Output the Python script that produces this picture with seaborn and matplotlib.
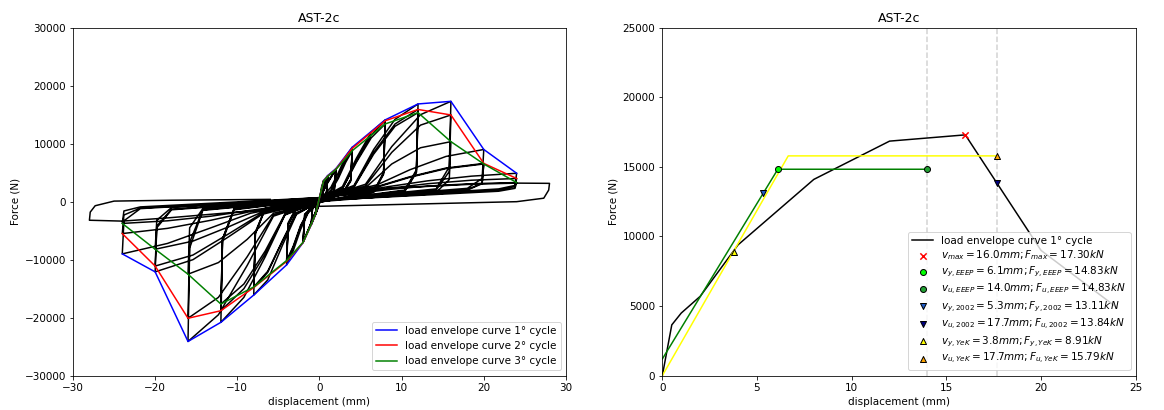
import matplotlib
matplotlib.use('Agg')
import matplotlib.pyplot as plt
import seaborn as sns

plt.rcParams['font.size'] = 10.4

# ===============================
# Envelope curves (peak force of each cycle per amplitude)
# ===============================
env_x = [-24, -20, -16, -12, -8, -4, -2, -1, -0.5, 0.5, 1, 2, 4, 8, 12, 16, 20, 24]
env_c1 = [-9000, -12100, -24100, -20800, -16100, -10900, -7070, -4000, -2300,
          3650, 4500, 5700, 9400, 14100, 16850, 17300, 9000, 4900]
env_c2 = [-5500, -11100, -20100, -18800, -14800, -10300, -7050, -3950, -2250,
          3600, 4400, 5600, 9200, 13950, 15900, 14950, 6600, 4000]
env_c3 = [-3750, -8200, -12500, -17650, -14700, -10150, -7000, -3900, -2200,
          3550, 4350, 5550, 8800, 13400, 15350, 10350, 6500, 3300]

# ===============================
# Hysteresis loops, read by eye (stations per half cycle, forces per half)
# rows: c1 up, c1 down, c2 up, c2 down, c3 up, c3 down
# ===============================
a05_first = [0.0, 0.1, 0.25, 0.5]
a05_up = [-0.35, 0.0, 0.2, 0.5]
a05_dn = [0.35, 0.0, -0.2, -0.5]
a05_f = [[0, 1200, 2500, 3650], [1000, -200, -1100, -2300],
         [-700, 300, 1700, 3600], [1000, -200, -1100, -2250],
         [-700, 300, 1700, 3550], [950, -200, -1100, -2200]]

a1_first = [-0.35, 0.0, 0.4, 1.0]
a1_up = [-0.85, 0.0, 0.4, 1.0]
a1_dn = [0.85, 0.0, -0.4, -1.0]
a1_f = [[-700, 400, 2600, 4500], [1400, -200, -1900, -4000],
        [-1200, 300, 2400, 4400], [1300, -200, -1800, -3950],
        [-1200, 300, 2400, 4350], [1300, -200, -1800, -3900]]

a2_first = [-0.85, 0.0, 0.8, 2.0]
a2_up = [-1.8, 0.0, 0.8, 2.0]
a2_dn = [1.8, 0.0, -0.8, -2.0]
a2_f = [[-1100, 400, 3000, 5700], [2000, -100, -3000, -7070],
        [-2200, 300, 2800, 5600], [1900, -100, -2900, -7050],
        [-2200, 300, 2800, 5550], [1900, -100, -2900, -7000]]

a4_first = [-1.8, -1.0, 0.0, 1.4, 2.3, 3.2, 4.0]
a4_up = [-3.8, -2.8, 0.0, 1.4, 2.3, 3.2, 4.0]
a4_dn = [3.8, 2.8, 0.0, -1.4, -2.3, -3.2, -4.0]
a4_f = [[-2800, -900, 300, 2500, 5000, 7800, 9400],
        [3800, 1500, 0, -2000, -4800, -8500, -10900],
        [-4000, -1300, 200, 2000, 4400, 7300, 9200],
        [3700, 1400, -100, -1800, -4300, -7900, -10300],
        [-3800, -1200, 200, 1800, 4000, 6800, 8800],
        [3500, 1300, -100, -1700, -4100, -7700, -10150]]

a8_first = [-3.8, -2.8, 0.0, 2.8, 4.5, 6.3, 8.0]
a8_up = [-7.8, -6.6, 0.0, 2.8, 4.5, 6.3, 8.0]
a8_dn = [7.8, 6.6, 0.0, -2.8, -4.5, -6.3, -8.0]
a8_f = [[-3600, -1000, 400, 2600, 7500, 12000, 14100],
        [5000, 1800, 0, -2200, -7500, -13500, -16100],
        [-5500, -1300, 300, 2300, 7000, 11500, 13950],
        [4900, 1700, -100, -2000, -6800, -12200, -14800],
        [-5200, -1200, 300, 2200, 6800, 11000, 13400],
        [4700, 1600, -100, -1900, -6700, -12000, -14700]]

a12_first = [-7.8, -6.6, 0.0, 4.2, 6.6, 9.2, 12.0]
a12_up = [-11.8, -10.4, 0.0, 4.2, 6.6, 9.2, 12.0]
a12_dn = [11.8, 10.4, 0.0, -4.2, -6.6, -9.2, -12.0]
a12_f = [[-5500, -1100, 500, 2800, 9000, 14200, 16850],
         [5500, 2000, 100, -2300, -9500, -16500, -20800],
         [-6800, -1400, 400, 2600, 8500, 13400, 15900],
         [5200, 1900, 0, -2200, -9000, -15000, -18800],
         [-6400, -1300, 400, 2500, 8200, 13000, 15350],
         [5000, 1800, 0, -2100, -8500, -14200, -17650]]

a16_first = [-11.8, -10.4, 0.0, 5.6, 8.8, 12.3, 16.0]
a16_up = [-15.8, -14.2, 0.0, 5.6, 8.8, 12.3, 16.0]
a16_dn = [15.8, 14.2, 0.0, -5.6, -8.8, -12.3, -16.0]
a16_f = [[-6500, -1200, 500, 3000, 9500, 15000, 17300],
         [6000, 2200, 200, -2500, -11000, -19500, -24100],
         [-8000, -1500, 400, 2700, 8500, 13200, 14950],
         [5200, 2000, 100, -2300, -9500, -16500, -20100],
         [-7000, -1400, 400, 2400, 6500, 9300, 10350],
         [3800, 1600, 0, -2000, -6500, -10500, -12500]]

a20_first = [-15.8, -14.2, 0.0, 7.0, 11.0, 15.4, 20.0]
a20_up = [-19.8, -18.0, 0.0, 7.0, 11.0, 15.4, 20.0]
a20_dn = [19.8, 18.0, 0.0, -7.0, -11.0, -15.4, -20.0]
a20_f = [[-4500, -1200, 600, 2900, 5500, 7800, 9000],
         [4000, 2300, 300, -2200, -6000, -10000, -12100],
         [-4500, -1400, 500, 2600, 4300, 5800, 6600],
         [3200, 2100, 200, -2000, -5500, -9200, -11100],
         [-4200, -1300, 500, 2500, 4200, 5700, 6500],
         [3100, 2000, 200, -1800, -4300, -6800, -8200]]

a24_first = [-19.8, -18.0, 0.0, 8.4, 13.2, 18.5, 24.0]
a24_up = [-23.8, -21.8, 0.0, 8.4, 13.2, 18.5, 24.0]
a24_dn = [23.8, 21.8, 0.0, -8.4, -13.2, -18.5, -24.0]
a24_f = [[-3200, -1000, 700, 2600, 3600, 4400, 4900],
         [2800, 2200, 300, -2000, -4500, -7200, -9000],
         [-3300, -1200, 600, 2300, 3100, 3700, 4000],
         [2600, 2000, 200, -1700, -3200, -4600, -5500],
         [-2300, -1100, 600, 2100, 2700, 3100, 3300],
         [2300, 1800, 200, -1500, -2500, -3300, -3750]]

# last run out to +/-28 mm
a28_up_x = [-23.8, -21.8, 0.0, 8.4, 18.5, 24.0, 28.0]
a28_up_f = [-1600, -900, 700, 2300, 3000, 3200, 3160]
a28_dn_x = [27.9, 27.3, 24.0, 0.0, -8.4, -18.5, -24.0, -28.0]
a28_dn_f = [2000, 600, 0, -800, -1600, -2800, -3350, -3200]
a28_end_x = [-27.9, -27.3, -25.0, -18.0, -6.0]
a28_end_f = [-1800, -700, 100, 250, 400]

# ===============================
# Bilinearisation results (right plot)
# ===============================
env1_x = [0, 0.5, 1, 2, 4, 8, 12, 16, 20, 24]
env1_f = [0, 3650, 4500, 5700, 9400, 14100, 16850, 17300, 9000, 4900]
eeep_x = [0, 6.1, 14.0]
eeep_f = [1200, 14830, 14830]
yek_x = [0, 6.65, 17.7]
yek_f = [0, 15790, 15790]

v_max, F_max = 16.0, 17.30
v_y_eeep, F_y_eeep = 6.1, 14.83
v_u_eeep, F_u_eeep = 14.0, 14.83
v_y_2002, F_y_2002 = 5.3, 13.11
v_u_2002, F_u_2002 = 17.7, 13.84
v_y_yek, F_y_yek = 3.8, 8.91
v_u_yek, F_u_yek = 17.7, 15.79

# ===============================
# Build the load history path
# ===============================
hist_x, hist_f = [0.0], [0.0]
blocks = [(a05_first, a05_up, a05_dn, a05_f), (a1_first, a1_up, a1_dn, a1_f),
          (a2_first, a2_up, a2_dn, a2_f), (a4_first, a4_up, a4_dn, a4_f),
          (a8_first, a8_up, a8_dn, a8_f), (a12_first, a12_up, a12_dn, a12_f),
          (a16_first, a16_up, a16_dn, a16_f), (a20_first, a20_up, a20_dn, a20_f),
          (a24_first, a24_up, a24_dn, a24_f)]
for first, up, dn, rows in blocks:
    for i, row in enumerate(rows):
        if i == 0:
            hist_x += first
        elif i % 2 == 0:
            hist_x += up
        else:
            hist_x += dn
        hist_f += row
hist_x += a28_up_x + a28_dn_x + a28_end_x
hist_f += a28_up_f + a28_dn_f + a28_end_f

# ===============================
# Figure
# ===============================
fig = plt.figure(figsize=(1164 / 72, 410 / 72), dpi=72)
ax1 = fig.add_axes([0.0627, 0.0837, 0.4235, 0.8488])
ax2 = fig.add_axes([0.569, 0.0837, 0.4067, 0.8488])

# left: hysteresis + envelopes
sns.lineplot(x=hist_x, y=hist_f, sort=False, estimator=None, color='black', lw=1.5, ax=ax1)
sns.lineplot(x=env_x, y=env_c1, sort=False, estimator=None, color='blue', lw=1.5,
             label='load envelope curve 1° cycle', ax=ax1)
sns.lineplot(x=env_x, y=env_c2, sort=False, estimator=None, color='red', lw=1.5,
             label='load envelope curve 2° cycle', ax=ax1)
sns.lineplot(x=env_x, y=env_c3, sort=False, estimator=None, color='green', lw=1.5,
             label='load envelope curve 3° cycle', ax=ax1)
ax1.set_xlim(-30, 30)
ax1.set_ylim(-30000, 30000)
ax1.set_xticks(range(-30, 31, 10))
ax1.set_yticks(range(-30000, 30001, 10000))
ax1.set_title('AST-2c')
ax1.set_xlabel('displacement (mm)')
ax1.set_ylabel('Force (N)')
ax1.legend(loc='lower right')

# right: envelope and bilinear models
ax2.axvline(v_u_eeep, color='lightgray', ls='--', lw=1.5, zorder=1)
ax2.axvline(v_u_2002, color='lightgray', ls='--', lw=1.5, zorder=1)
sns.lineplot(x=env1_x, y=env1_f, sort=False, estimator=None, color='black', lw=1.5,
             label='load envelope curve 1° cycle', ax=ax2)
sns.lineplot(x=eeep_x, y=eeep_f, sort=False, estimator=None, color='green', lw=1.5, ax=ax2)
sns.lineplot(x=yek_x, y=yek_f, sort=False, estimator=None, color='yellow', lw=1.5, ax=ax2)

markers = [
    (v_max, F_max, 'x', 'red', 'red', r'$v_{max} = %.1fmm; F_{max} = %.2fkN$'),
    (v_y_eeep, F_y_eeep, 'o', 'lime', 'black', r'$v_{y,EEEP} = %.1fmm; F_{y,EEEP} = %.2fkN$'),
    (v_u_eeep, F_u_eeep, 'o', '#22a033', 'black', r'$v_{u,EEEP} = %.1fmm; F_{u,EEEP} = %.2fkN$'),
    (v_y_2002, F_y_2002, 'v', '#1f5cc8', 'black', r'$v_{y,2002} = %.1fmm; F_{y,2002} = %.2fkN$'),
    (v_u_2002, F_u_2002, 'v', 'navy', 'black', r'$v_{u,2002} = %.1fmm; F_{u,2002} = %.2fkN$'),
    (v_y_yek, F_y_yek, '^', 'yellow', 'black', r'$v_{y,YeK} = %.1fmm; F_{y,YeK} = %.2fkN$'),
    (v_u_yek, F_u_yek, '^', 'orange', 'black', r'$v_{u,YeK} = %.1fmm; F_{u,YeK} = %.2fkN$'),
]
for v, F, m, fc, ec, lab in markers:
    if m == 'x':
        sns.scatterplot(x=[v], y=[F * 1000], marker=m, color=fc, s=40, linewidth=1.5,
                        label=lab % (v, F), ax=ax2, zorder=3)
    else:
        sns.scatterplot(x=[v], y=[F * 1000], marker=m, color=fc, edgecolor=ec, s=36,
                        linewidth=1.0, label=lab % (v, F), ax=ax2, zorder=3)

ax2.set_xlim(0, 25)
ax2.set_ylim(0, 25000)
ax2.set_xticks(range(0, 26, 5))
ax2.set_yticks(range(0, 25001, 5000))
ax2.set_title('AST-2c')
ax2.set_xlabel('displacement (mm)')
ax2.set_ylabel('Force (N)')
ax2.legend(loc='lower right', labelspacing=0.25)

fig.savefig('out.png', dpi=72)
